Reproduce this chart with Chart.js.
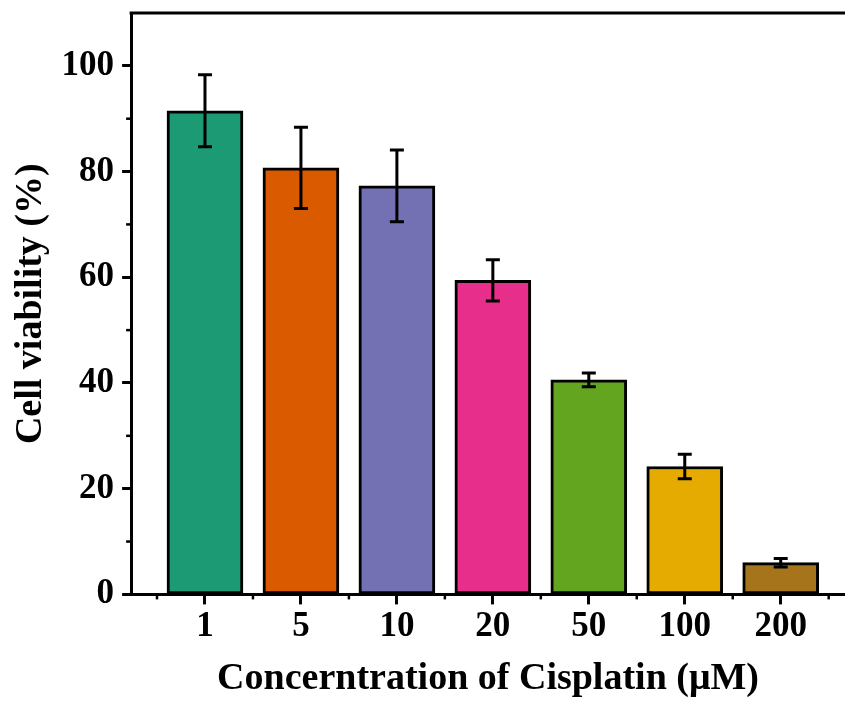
<!DOCTYPE html>
<html>
<head>
<meta charset="utf-8">
<title>Cell viability</title>
<script src="https://cdn.jsdelivr.net/npm/chart.js@4.4.1/dist/chart.umd.min.js"></script>
<style>
    body { margin: 0; background: #fff; }
</style>
</head>
<body>
<canvas id="chart-viability" width="845" height="702"></canvas>
<script>
// concentrations (uM) and measured viability
const concLabels = ['1', '5', '10', '20', '50', '100', '200'];
const viability = [91.5, 80.7, 77.3, 59.4, 40.6, 24.2, 6.0];
const viabilityErr = [6.8, 7.7, 6.8, 3.9, 1.3, 2.3, 0.8];
const barColors = ['#1b9a74', '#da5a00', '#7470b4', '#e72e8b', '#63a51e', '#e6ab00', '#a6741b'];
const yTicks = [0, 20, 40, 60, 80, 100];

const serif = '"Liberation Serif", "Times New Roman", serif';

// minor ticks, top frame line and error bars
const extrasPlugin = {
    id: 'extras',
    afterDatasetsDraw(chart) {
        const ctx = chart.ctx;
        const xs = chart.scales.x;
        const ys = chart.scales.y;
        const area = chart.chartArea;
        ctx.save();
        ctx.strokeStyle = '#000';
        ctx.lineCap = 'butt';

        // error bars
        ctx.lineWidth = 3;
        for (let i = 0; i < viability.length; i++) {
            const x = xs.getPixelForValue(i);
            const yTop = ys.getPixelForValue(viability[i] + viabilityErr[i]);
            const yBot = ys.getPixelForValue(viability[i] - viabilityErr[i]);
            ctx.beginPath();
            ctx.moveTo(x, yTop);
            ctx.lineTo(x, yBot);
            ctx.moveTo(x - 7, yTop);
            ctx.lineTo(x + 7, yTop);
            ctx.moveTo(x - 7, yBot);
            ctx.lineTo(x + 7, yBot);
            ctx.stroke();
        }

        // top frame line
        ctx.lineWidth = 3;
        ctx.beginPath();
        ctx.moveTo(area.left - 1.5, area.top);
        ctx.lineTo(area.right, area.top);
        ctx.stroke();

        // minor ticks
        ctx.lineWidth = 2.5;
        for (let v = 10; v < 110; v += 20) {
            const y = ys.getPixelForValue(v);
            ctx.beginPath();
            ctx.moveTo(area.left, y);
            ctx.lineTo(area.left - 5, y);
            ctx.stroke();
        }
        for (let v = -0.5; v < concLabels.length; v += 1) {
            const x = xs.getPixelForValue(v);
            ctx.beginPath();
            ctx.moveTo(x, area.bottom);
            ctx.lineTo(x, area.bottom + 5);
            ctx.stroke();
        }
        ctx.restore();
    }
};

const element = document.getElementById('chart-viability');
const chart = new Chart(element, {
    type: 'bar',
    data: {
        datasets: [{
            label: 'Cell viability',
            data: viability.map((v, i) => ({ x: i, y: v })),
            backgroundColor: barColors,
            borderColor: '#000',
            borderWidth: 3,
            borderSkipped: false,
            barThickness: 76
        }]
    },
    options: {
        responsive: false,
        animation: false,
        layout: { padding: { top: 0, left: 8, right: 0, bottom: 0 } },
        plugins: {
            legend: { display: false },
            tooltip: { enabled: false }
        },
        scales: {
            x: {
                type: 'linear',
                offset: false,
                min: -0.77,
                max: 6.67,
                afterBuildTicks: (scale) => {
                    scale.ticks = concLabels.map((_, i) => ({ value: i }));
                },
                border: { display: true, color: '#000', width: 3 },
                grid: { offset: false, drawOnChartArea: false, drawTicks: true, tickLength: 10, tickWidth: 3, tickColor: '#000' },
                ticks: {
                    color: '#000',
                    font: { family: serif, size: 35, weight: 'bold' },
                    padding: 2,
                    maxRotation: 0,
                    autoSkip: false,
                    callback: (v) => concLabels[v]
                },
                title: {
                    display: true,
                    text: 'Concerntration of Cisplatin (μM)',
                    color: '#000',
                    font: { family: serif, size: 38, weight: 'bold' },
                    padding: { top: 6, bottom: 0 }
                }
            },
            y: {
                min: 0,
                max: 110,
                afterBuildTicks: (scale) => {
                    scale.ticks = yTicks.map((v) => ({ value: v }));
                },
                // top tick is 100, not the axis end, so no room is needed for a label there
                afterFit: (scale) => {
                    scale.paddingTop = 13;
                },
                border: { display: true, color: '#000', width: 3 },
                grid: { drawOnChartArea: false, drawTicks: true, tickLength: 9, tickWidth: 3, tickColor: '#000' },
                ticks: {
                    color: '#000',
                    font: { family: serif, size: 35, weight: 'bold' },
                    padding: 8
                },
                title: {
                    display: true,
                    text: 'Cell viability (%)',
                    color: '#000',
                    font: { family: serif, size: 38, weight: 'bold' },
                    padding: { top: 0, bottom: 0 }
                }
            }
        }
    },
    plugins: [extrasPlugin]
});
</script>
</body>
</html>
